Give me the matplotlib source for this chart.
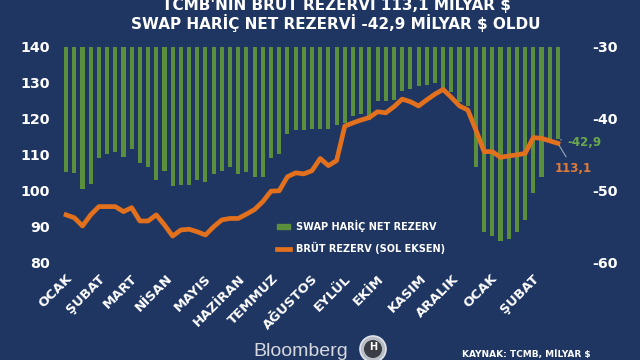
import numpy as np
import matplotlib
matplotlib.use("Agg")
import matplotlib.pyplot as plt
from matplotlib.lines import Line2D
from matplotlib.patches import Patch, Ellipse

plt.rcParams["axes.unicode_minus"] = False

# weekly data, 61 weeks (Jan -> Feb of next year)
net_reserve = [-47.5, -47.6, -49.8, -49.1, -45.5, -44.9, -44.6, -45.4, -44.2, -46.2,
               -46.8, -48.5, -47.3, -49.4, -49.3, -49.2, -48.5, -48.8, -47.7, -47.3,
               -46.7, -47.7, -47.5, -48.1, -48.1, -45.5, -44.9, -42.2, -41.6, -41.6,
               -41.5, -41.4, -41.5, -40.9, -40.6, -39.7, -39.4, -40.2, -37.5, -37.5,
               -37.4, -36.1, -35.9, -35.4, -35.3, -35.1, -35.8, -36.3, -37.7, -38.3,
               -46.8, -55.8, -56.4, -57.0, -56.8, -55.8, -54.1, -50.3, -48.2, -43.0, -42.9]
gross_reserve = [93.2, 92.4, 90.1, 93.2, 95.5, 95.5, 95.5, 94.1, 95.2, 91.5,
                 91.5, 93.2, 90.4, 87.3, 89.0, 89.2, 88.5, 87.6, 89.9, 91.8,
                 92.2, 92.2, 93.4, 94.7, 96.9, 99.8, 99.9, 103.8, 104.9, 104.6,
                 105.5, 108.9, 106.9, 108.3, 117.9, 118.8, 119.6, 120.3, 121.9, 121.6,
                 123.3, 125.4, 124.7, 123.5, 125.2, 126.8, 128.1, 125.9, 123.5, 122.4,
                 116.8, 110.8, 110.8, 109.2, 109.6, 109.9, 110.3, 114.7, 114.5, 113.8, 113.1]
month_labels = ["OCAK", "ŞUBAT", "MART", "NİSAN", "MAYIS", "HAZİRAN", "TEMMUZ",
                "AĞUSTOS", "EYLÜL", "EKİM", "KASIM", "ARALIK", "OCAK", "ŞUBAT"]
month_pos = [1.1, 5.1, 9.0, 13.3, 18.0, 22.2, 26.2, 31.1, 35.1, 39.1, 44.3, 48.3, 52.9, 58.0]
left_ticks = [80, 90, 100, 110, 120, 130, 140]
right_ticks = [-60, -50, -40, -30]

BG = "#1f3662"
GREEN = "#5b8f3d"
ORANGE = "#e2701c"

x = np.arange(len(gross_reserve))

fig = plt.figure(figsize=(6.4, 3.6), dpi=100, facecolor=BG)
ax = fig.add_axes([62 / 640, 0.2714, 500 / 640, 0.5989])
ax2 = ax.twinx()
ax.set_zorder(ax2.get_zorder() + 1)
ax.patch.set_visible(False)
ax2.set_facecolor(BG)

# bars hang down from -30
ax2.bar(x, [v + 30 for v in net_reserve], bottom=-30, width=0.5, color=GREEN,
        label="SWAP HARİÇ NET REZERV")
ax.plot(x, gross_reserve, color=ORANGE, lw=3.4, solid_joinstyle="round",
        label="BRÜT REZERV (SOL EKSEN)")

ax.set_xlim(-0.5, 60.5)
ax.set_ylim(80, 140)
ax2.set_ylim(-60, -30)
ax.set_yticks(left_ticks)
ax2.set_yticks(right_ticks)
ax.set_xticks(month_pos)
ax.set_xticklabels(month_labels, rotation=45, ha="right", rotation_mode="default")

for a in (ax, ax2):
    for s in a.spines.values():
        s.set_visible(False)
ax.tick_params(axis="y", length=0, pad=9, labelsize=10.3, labelcolor="white")
ax2.tick_params(axis="y", length=0, pad=22, labelsize=10.3, labelcolor="white")
ax.tick_params(axis="x", length=0, pad=7, labelsize=9.5, labelcolor="white")
for lab in ax.get_yticklabels() + ax2.get_yticklabels() + ax.get_xticklabels():
    lab.set_fontweight("bold")

# legend
handles = [Patch(color=GREEN, label="SWAP HARİÇ NET REZERV"),
           Line2D([0], [0], color=ORANGE, lw=3.4, label="BRÜT REZERV (SOL EKSEN)")]
leg = ax.legend(handles=handles, loc="upper left", bbox_to_anchor=(268 / 640, 1 - 211 / 360),
                bbox_transform=fig.transFigure, frameon=False, handlelength=1.4,
                handleheight=0.5, handletextpad=0.6, labelspacing=1.0,
                prop={"size": 7, "weight": "bold"})
for t in leg.get_texts():
    t.set_color("white")

# end annotations
last = len(gross_reserve) - 1
ax2.annotate("-42,9", xy=(last, net_reserve[-1]), xytext=(last + 1.1, net_reserve[-1] - 0.4),
             color="#6aa84f", fontsize=8.5, fontweight="bold", va="center",
             arrowprops=dict(arrowstyle="-", color="#9aa5b5", lw=0.8, ls="--"))
ax.annotate("113,1", xy=(last, gross_reserve[-1]), xytext=(last - 0.4, gross_reserve[-1] - 7),
            color="#e07b39", fontsize=8.5, fontweight="bold", va="center",
            arrowprops=dict(arrowstyle="-", color="#9aa5b5", lw=0.8))

# title (first line sits partly above the top edge, as in the source)
fig.text(336 / 640, 1 - 4 / 360, "TCMB'NİN BRÜT REZERVİ 113,1 MİLYAR $", ha="center",
         va="center", color="white", fontsize=11, fontweight="bold")
fig.text(336 / 640, 1 - 23 / 360, "SWAP HARİÇ NET REZERVİ -42,9 MİLYAR $ OLDU", ha="center",
         va="center", color="white", fontsize=11, fontweight="bold")

# footer
fig.text(253 / 640, 1 - 351 / 360, "Bloomberg", ha="left", va="center", color="#d5d8de",
         fontsize=14, family="Liberation Sans")
fig.patches.append(Ellipse((373 / 640, 1 - 349 / 360), 26 / 640, 26 / 360,
                           transform=fig.transFigure, facecolor="#b8bcc4",
                           edgecolor="#e0e3e8", lw=1.2))
fig.patches.append(Ellipse((373 / 640, 1 - 349 / 360), 18 / 640, 18 / 360,
                           transform=fig.transFigure, facecolor="#3a3d44",
                           edgecolor="none"))
fig.text(373 / 640, 1 - 347 / 360, "H", ha="center", va="center", color="white",
         fontsize=7, fontweight="bold")
fig.text(462 / 640, 1 - 355 / 360, "KAYNAK: TCMB, MİLYAR $", ha="left", va="center",
         color="white", fontsize=6.5, fontweight="bold")

fig.savefig("out.png", dpi=100, facecolor=BG)
